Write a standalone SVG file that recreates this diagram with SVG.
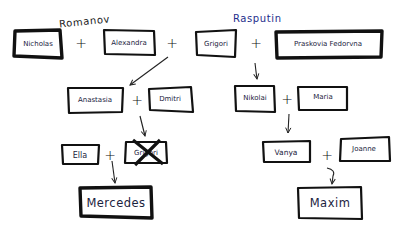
<svg xmlns="http://www.w3.org/2000/svg" width="400" height="232" viewBox="0 0 400 232">
<defs>
<marker id="ah" viewBox="0 0 8 8" refX="7" refY="4" markerWidth="7" markerHeight="7" orient="auto" markerUnits="userSpaceOnUse">
<path d="M1,1 L7,4 L1,7" fill="none" stroke="#222" stroke-width="1.1"/>
</marker>
<style>
.box{fill:#fff;stroke:#111;stroke-width:2.2;stroke-linejoin:round}
.thick{stroke-width:3.4}
.t{font-family:"DejaVu Sans",sans-serif;font-size:7px;fill:#1b2340;text-anchor:middle}
.big{font-size:11.5px;letter-spacing:0.5px}
.plus{font-family:"DejaVu Sans",sans-serif;font-size:14px;fill:#111;text-anchor:middle;font-weight:300}
.conn{fill:none;stroke:#222;stroke-width:1.1}
.fam{font-family:"DejaVu Sans",sans-serif;font-size:10px;letter-spacing:0.6px}
</style>
</defs>
<rect width="400" height="232" fill="#fff"/>
<text class="fam" x="59" y="25" fill="#222" transform="rotate(-6 84 21)">Romanov</text>
<text class="fam" x="233" y="22" fill="#1e2e8c">Rasputin</text>
<g id="nicholas"><path class="box thick" d="M15,31 L60,30 L62,58 L14,56 Z"/><text class="t" x="38" y="46">Nicholas</text></g>
<text class="plus" x="81" y="48">+</text>
<g id="alexandra"><path class="box" d="M104,30 L154,31 L155,55 L105,54 Z"/><text class="t" x="129" y="45">Alexandra</text></g>
<text class="plus" x="172" y="48">+</text>
<g id="grigori"><path class="box" d="M196,32 L236,30 L235,57 L197,55 Z"/><text class="t" x="216" y="46">Grigori</text></g>
<text class="plus" x="256" y="48">+</text>
<g id="praskovia"><path class="box thick" d="M276,32 L382,31 L381,57 L277,58 Z"/><text class="t" x="328" y="46">Praskovia Fedorvna</text></g>
<g id="anastasia"><path class="box" d="M68,88 L123,88 L122,112 L69,113 Z"/><text class="t" x="95" y="102">Anastasia</text></g>
<text class="plus" x="137" y="105">+</text>
<g id="dmitri"><path class="box" d="M149,89 L191,87 L193,112 L150,110 Z"/><text class="t" x="170" y="101">Dmitri</text></g>
<g id="nikolai"><path class="box" d="M235,86 L274,86 L275,112 L236,111 Z"/><text class="t" x="255" y="100">Nikolai</text></g>
<text class="plus" x="287" y="104">+</text>
<g id="maria"><path class="box" d="M298,87 L347,87 L347,110 L299,110 Z"/><text class="t" x="323" y="99">Maria</text></g>
<g id="ella"><path class="box" d="M62,145 L99,145 L98,164 L63,164 Z"/><text class="t" x="80" y="158" style="font-size:8px">Ella</text></g>
<text class="plus" x="110" y="160">+</text>
<g id="grigori2"><path class="box" d="M126,142 L166,142 L167,163 L125,163 Z"/><text class="t" x="146" y="155">Grigori</text>
<path d="M133,140 L163,164 M160,140 L135,165" stroke="#111" stroke-width="3.2" fill="none"/></g>
<g id="mercedes"><path class="box thick" d="M80,188 L151,187 L152,218 L81,216 Z"/><text class="t big" x="116" y="207">Mercedes</text></g>
<g id="vanya"><path class="box" d="M263,142 L310,141 L310,162 L264,162 Z"/><text class="t" x="286" y="155" style="font-size:7.5px">Vanya</text></g>
<text class="plus" x="327" y="160">+</text>
<g id="joanne"><path class="box" d="M341,139 L389,137 L390,161 L340,161 Z"/><text class="t" x="364" y="151">Joanne</text></g>
<g id="maxim"><path class="box" d="M298,188 L361,187 L362,219 L299,218 Z"/><text class="t big" x="330" y="207">Maxim</text></g>
<g id="connectors">
<path class="conn" d="M168,57 L130,85" marker-end="url(#ah)"/>
<path class="conn" d="M255,63 Q256,72 257,79" marker-end="url(#ah)"/>
<path class="conn" d="M140,116 L145,136" marker-end="url(#ah)"/>
<path class="conn" d="M289,114 L288,133" marker-end="url(#ah)"/>
<path class="conn" d="M112,161 L115,183" marker-end="url(#ah)"/>
<path class="conn" d="M327,168 Q336,170 333,176 L332,184" marker-end="url(#ah)"/>
</g>
</svg>
